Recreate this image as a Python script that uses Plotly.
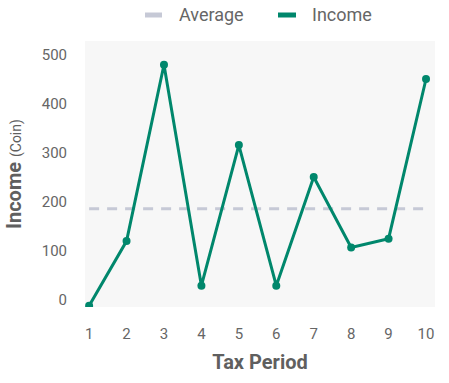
import plotly.graph_objects as go

periods = [1, 2, 3, 4, 5, 6, 7, 8, 9, 10]
income = [-12, 120, 480, 29, 316, 29, 251, 107, 125, 451]
average_value = 186
legend_labels = ["Average", "Income"]

INCOME_COLOR = "#00876c"
AVG_COLOR = "#c6c9d6"
FONT = "Roboto"

W, H = 449, 383
L, R, T, B = 85, 14, 41, 76
PW, PH = W - L - R, H - T - B

fig = go.Figure()
fig.add_trace(go.Scatter(
    x=[periods[0], periods[-1]], y=[average_value, average_value],
    mode="lines", line=dict(color=AVG_COLOR, width=3, dash="10px,8px"),
    showlegend=False, hoverinfo="skip"))
fig.add_trace(go.Scatter(
    x=periods, y=income, mode="lines+markers",
    line=dict(color=INCOME_COLOR, width=3),
    marker=dict(color=INCOME_COLOR, size=8),
    showlegend=False))

# manual legend (pixel positions)
legend_items = [(legend_labels[0], AVG_COLOR, 145, 162, 177), (legend_labels[1], INCOME_COLOR, 278, 296, 310)]
ly = 15
for label, col, x0, x1, tx in legend_items:
    yy = (H - B - ly) / PH
    fig.add_shape(type="line", xref="paper", yref="paper",
                  x0=(x0 - L) / PW, x1=(x1 - L) / PW, y0=yy, y1=yy,
                  line=dict(color=col, width=5))
    fig.add_annotation(xref="paper", yref="paper", x=(tx - L) / PW, y=yy,
                       text=label, showarrow=False, xanchor="left", yanchor="middle",
                       font=dict(family=FONT, size=18, color="#666666"))

fig.update_layout(
    width=W, height=H,
    margin=dict(l=L, r=R, t=T, b=B),
    paper_bgcolor="white", plot_bgcolor="#f7f7f7",
    font=dict(family=FONT, color="#666666"),
    xaxis=dict(range=[0.89, 10.24], tickvals=periods, ticktext=[str(p) for p in periods],
               showgrid=False, zeroline=False, showline=False, automargin=False,
               tickfont=dict(size=15, color="#666666"), ticks="outside", ticklen=13, tickcolor="rgba(0,0,0,0)",
               title=dict(text="<b>Tax Period</b>", font=dict(size=20, color="#5f5f5f"), standoff=12)),
    yaxis=dict(range=[-14.5, 528.5], tickvals=[0, 100, 200, 300, 400, 500],
               showgrid=False, zeroline=False, showline=False, automargin=False,
               tickfont=dict(size=15, color="#666666"), ticks="outside", ticklen=14, tickcolor="rgba(0,0,0,0)",
               title=dict(text="<b>Income</b> <span style='font-size:14px;font-weight:normal'>(Coin)</span>",
                          font=dict(size=20, color="#5f5f5f"), standoff=14)),
)

fig.write_html("out.html", config={"displayModeBar": False},
               post_script="document.body.style.margin='0';")
